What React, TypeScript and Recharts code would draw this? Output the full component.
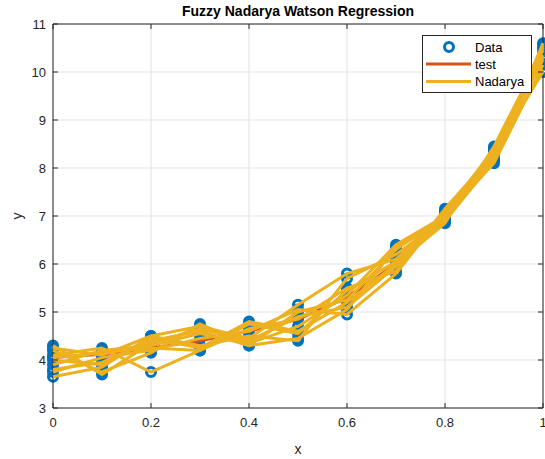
import React from 'react';
import {
  ComposedChart,
  Line,
  Scatter,
  XAxis,
  YAxis,
  CartesianGrid,
  ReferenceLine,
  Legend,
  Label,
} from 'recharts';

const xValues = [0, 0.1, 0.2, 0.3, 0.4, 0.5, 0.6, 0.7, 0.8, 0.9, 1.0];
const testCurve = [4.05, 4.12, 4.25, 4.4, 4.6, 4.85, 5.3, 6.0, 7.0, 8.3, 10.3];

const nadarya01 = [4.25, 4.1, 4.5, 4.7, 4.45, 5.15, 5.8, 6.1, 7.05, 8.4, 10.3];
const nadarya02 = [4.2, 3.75, 4.15, 4.75, 4.3, 4.45, 5.05, 6.35, 6.9, 8.15, 10.6];
const nadarya03 = [4.1, 4.25, 3.75, 4.2, 4.65, 4.85, 5.5, 5.85, 7.15, 8.3, 10.05];
const nadarya04 = [4.0, 3.9, 4.45, 4.25, 4.8, 4.6, 5.2, 6.0, 6.85, 8.45, 10.45];
const nadarya05 = [3.9, 4.2, 4.3, 4.55, 4.35, 4.7, 5.35, 6.4, 7.0, 8.1, 10.15];
const nadarya06 = [3.75, 4.05, 4.2, 4.45, 4.6, 5.05, 4.95, 5.8, 7.1, 8.25, 10.55];
const nadarya07 = [3.65, 3.85, 4.5, 4.3, 4.5, 4.4, 5.7, 6.2, 6.95, 8.35, 10.0];
const nadarya08 = [4.3, 3.7, 4.35, 4.65, 4.4, 4.9, 5.1, 5.95, 7.05, 8.2, 10.35];
const nadarya09 = [4.05, 4.15, 4.25, 4.2, 4.75, 4.55, 5.45, 6.05, 6.9, 8.4, 10.25];
const nadarya10 = [3.8, 3.95, 4.4, 4.6, 4.3, 5.0, 5.25, 6.3, 7.0, 8.15, 10.5];

const nadaryaRuns = [
  nadarya01, nadarya02, nadarya03, nadarya04, nadarya05,
  nadarya06, nadarya07, nadarya08, nadarya09, nadarya10,
];

const xTicks = [0, 0.2, 0.4, 0.6, 0.8, 1];
const xTickLabels = ['0', '0.2', '0.4', '0.6', '0.8', '1'];
const yTicks = [3, 4, 5, 6, 7, 8, 9, 10, 11];
const yTickLabels = ['3', '4', '5', '6', '7', '8', '9', '10', '11'];

const titleText = 'Fuzzy Nadarya Watson Regression';
const legendLabels = ['Data', 'test', 'Nadarya'];

const BLUE = '#0072BD';
const RED = '#D95319';
const YELLOW = '#EDB120';
const AX = '#262626';
const FONT = '"Liberation Sans", Arial, Helvetica, sans-serif';

const W = 545;
const H = 459;
const M = { top: 24, right: 2, left: 0, bottom: 0 };
const Y_AXIS_W = 53;
const X_AXIS_H = 51;
const PLOT_TOP = M.top;
const PLOT_RIGHT = W - M.right;
const TICK = 5;

const rows = xValues.map((x, i) => {
  const r: Record<string, number> = { x, test: testCurve[i] };
  nadaryaRuns.forEach((run, k) => {
    r['n' + k] = run[i];
  });
  return r;
});

const scatterData = nadaryaRuns.flatMap((run) =>
  run.map((y, i) => ({ x: xValues[i], y }))
);

const XTick = (props: any) => {
  const { x, y, payload } = props;
  const idx = xTicks.indexOf(payload.value);
  const label = idx >= 0 ? xTickLabels[idx] : String(payload.value);
  return (
    <g>
      <line x1={x} x2={x} y1={y} y2={y - TICK} stroke={AX} strokeWidth={1} />
      <line x1={x} x2={x} y1={PLOT_TOP} y2={PLOT_TOP + TICK} stroke={AX} strokeWidth={1} />
      <text
        x={x}
        y={y + 19}
        textAnchor="middle"
        fill={AX}
        fontSize={13}
        fontFamily={FONT}
      >
        {label}
      </text>
    </g>
  );
};

const YTick = (props: any) => {
  const { x, y, payload } = props;
  const idx = yTicks.indexOf(payload.value);
  const label = idx >= 0 ? yTickLabels[idx] : String(payload.value);
  return (
    <g>
      <line x1={x} x2={x + TICK} y1={y} y2={y} stroke={AX} strokeWidth={1} />
      <line x1={PLOT_RIGHT} x2={PLOT_RIGHT - TICK} y1={y} y2={y} stroke={AX} strokeWidth={1} />
      <text
        x={x - 7}
        y={y}
        dy="0.36em"
        textAnchor="end"
        fill={AX}
        fontSize={13}
        fontFamily={FONT}
      >
        {label}
      </text>
    </g>
  );
};

const RingShape = (props: any) => {
  const { cx, cy } = props;
  if (cx == null || cy == null) return <g />;
  return <circle cx={cx} cy={cy} r={4.5} fill="none" stroke={BLUE} strokeWidth={3} />;
};

const LegendBox = () => (
  <svg width={111} height={59} style={{ display: 'block' }}>
    <rect x={0.5} y={0.5} width={109} height={57} fill="#ffffff" stroke={AX} strokeWidth={1} />
    <circle cx={27} cy={12} r={4.5} fill="none" stroke={BLUE} strokeWidth={3} />
    <text x={53} y={12} dy="0.36em" fontSize={13} fill="#000" fontFamily={FONT}>
      {legendLabels[0]}
    </text>
    <line x1={4} x2={49} y1={29} y2={29} stroke={RED} strokeWidth={3} />
    <text x={53} y={29} dy="0.36em" fontSize={13} fill="#000" fontFamily={FONT}>
      {legendLabels[1]}
    </text>
    <line x1={4} x2={49} y1={46.5} y2={46.5} stroke={YELLOW} strokeWidth={3} />
    <text x={53} y={46.5} dy="0.36em" fontSize={13} fill="#000" fontFamily={FONT}>
      {legendLabels[2]}
    </text>
  </svg>
);

export default function App() {
  return (
    <div style={{ position: 'absolute', left: 0, top: 0, width: W, height: H, background: '#fff' }}>
      <div
        style={{
          position: 'absolute',
          left: Y_AXIS_W,
          width: PLOT_RIGHT - Y_AXIS_W,
          top: 2,
          textAlign: 'center',
          fontFamily: FONT,
          fontWeight: 'bold',
          fontSize: 14,
          color: '#000',
          lineHeight: '18px',
          zIndex: 2,
        }}
      >
        {titleText}
      </div>
      <ComposedChart width={W} height={H} data={rows} margin={M}>
        <CartesianGrid stroke="#e2e2e2" strokeWidth={1} />
        <XAxis
          dataKey="x"
          type="number"
          domain={[0, 1]}
          ticks={xTicks}
          interval={0}
          height={X_AXIS_H}
          tickSize={0}
          tickMargin={0}
          tickLine={false}
          axisLine={{ stroke: AX, strokeWidth: 1 }}
          tick={<XTick />}
        >
          <Label
            value="x"
            position="center"
            dy={16}
            fill={AX}
            fontSize={14}
            fontFamily={FONT}
          />
        </XAxis>
        <YAxis
          type="number"
          domain={[3, 11]}
          ticks={yTicks}
          interval={0}
          width={Y_AXIS_W}
          tickSize={0}
          tickMargin={0}
          tickLine={false}
          axisLine={{ stroke: AX, strokeWidth: 1 }}
          tick={<YTick />}
        >
          <Label
            value="y"
            position="center"
            angle={-90}
            dx={-9}
            fill={AX}
            fontSize={14}
            fontFamily={FONT}
          />
        </YAxis>
        <ReferenceLine y={11} stroke={AX} strokeWidth={1} />
        <ReferenceLine x={1} stroke={AX} strokeWidth={1} />
        <Scatter
          data={scatterData}
          dataKey="y"
          shape={<RingShape />}
          isAnimationActive={false}
          legendType="none"
          zIndex={300}
        />
        <Line
          dataKey="test"
          type="linear"
          stroke={RED}
          strokeWidth={3}
          dot={false}
          activeDot={false}
          isAnimationActive={false}
          zIndex={650}
        />
        {nadaryaRuns.map((_, k) => (
          <Line
            key={'n' + k}
            dataKey={'n' + k}
            type="linear"
            stroke={YELLOW}
            strokeWidth={3}
            dot={false}
            activeDot={false}
            isAnimationActive={false}
            zIndex={700}
          />
        ))}
        <Legend
          layout="vertical"
          verticalAlign="middle"
          align="center"
          content={<LegendBox />}
          wrapperStyle={{ position: 'absolute', left: 422, top: 35, width: 111, height: 59 }}
        />
      </ComposedChart>
    </div>
  );
}
